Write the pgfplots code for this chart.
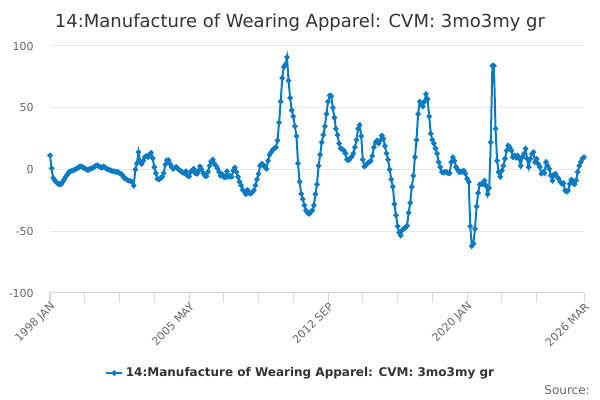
\documentclass[border=0pt]{standalone}
\usepackage{fontspec}
\setmainfont{DejaVu Sans}
\usepackage{pgfplots}
\pgfplotsset{compat=1.18}
\definecolor{linec}{HTML}{0A7BC2}
\definecolor{gridc}{HTML}{E6E6E6}
\definecolor{axisc}{HTML}{CCD6EB}
\definecolor{labelc}{HTML}{666666}
\definecolor{titlec}{HTML}{333333}
\definecolor{sourcec}{HTML}{666666}
\begin{document}
\begin{tikzpicture}
\path[use as bounding box] (0,0) rectangle (450pt,300pt);
\node[anchor=base, font=\fontsize{13.5}{16}\selectfont, text=titlec, inner sep=0pt] at (225pt,279pt) {14:Manufacture of Wearing Apparel: CVM: 3mo3my gr};
\node[anchor=base east, font=\fontsize{9}{11}\selectfont, text=sourcec, inner sep=0pt] at (442.5pt,4.5pt) {Source:};
\begin{axis}[
  at={(37.5pt,80.25pt)}, anchor=south west,
  scale only axis, width=400.5pt, height=185.25pt,
  xmin=0, xmax=338, ymin=-100, ymax=100,
  axis lines*=left,
  x axis line style={draw=axisc, line width=0.75pt},
  y axis line style={draw=none},
  xtick={0,88,176,264,338},
  xticklabels={1998 JAN,2005 MAY,2012 SEP,2020 JAN,2026 MAR},
  minor xtick={22,44,66,110,132,154,198,220,242,286,308},
  ytick={-100,-50,0,50,100},
  yticklabels={-100,-50,0,50,100},
  ymajorgrids,
  grid style={draw=gridc, line width=0.75pt},
  tick align=outside,
  major tick length=7pt,
  minor tick length=7pt,
  xtick style={draw=axisc, line width=0.75pt},
  minor x tick style={draw=axisc, line width=0.75pt},
  ytick style={draw=none},
  ticklabel style={font=\fontsize{8.25}{10}\selectfont, text=labelc},
  xticklabel style={rotate=45, anchor=east, inner sep=0pt, xshift=0.5pt, yshift=-3pt},
  yticklabel style={inner sep=0pt, xshift=-5pt},
  legend style={at={(axis description cs:0.47,-0.324)}, anchor=center, draw=none, fill=none,
    font=\bfseries\fontsize{9}{11}\selectfont, text=titlec, inner sep=0pt},
  legend image code/.code={\draw[#1, mark repeat=2, mark phase=2] plot coordinates {(0pt,0pt) (6pt,0pt) (12pt,0pt)};},
  clip=false,
]
\addplot[color=linec, line width=1.5pt, mark=*, mark size=1.2pt, mark options={solid, fill=linec, draw=linec}] coordinates {
(0,11.5)(1,1)(2,-7)(3,-9)(4,-10)(5,-11.5)(6,-12)(7,-12)(8,-10)(9,-8)
(10,-6)(11,-4)(12,-2)(13,-1.5)(14,-1)(15,-0.5)(16,0)(17,1)(18,1.5)(19,2.5)
(20,2.5)(21,1.5)(22,1)(23,0)(24,-0.5)(25,0.5)(26,0.5)(27,1.5)(28,2)(29,3)
(30,3.5)(31,2.5)(32,2)(33,1.5)(34,2.5)(35,1.5)(36,0.5)(37,0)(38,-0.5)(39,-1)
(40,-1.5)(41,-1.5)(42,-2)(43,-2)(44,-3)(45,-3.5)(46,-5)(47,-7)(48,-7.5)(49,-8.5)
(50,-9)(51,-9.5)(52,-10)(53,-13)(54,0)(55,5)(56,14)(57,7)(58,4.5)(59,7)
(60,10)(61,11)(62,10)(63,12)(64,13.5)(65,9)(66,2)(67,-3)(68,-7.5)(69,-8)
(70,-7)(71,-6)(72,-3)(73,4)(74,7.5)(75,7.5)(76,4.5)(77,2)(78,0.5)(79,1.5)
(80,2)(81,0.5)(82,-0.5)(83,-1.5)(84,-2.5)(85,-3)(86,-1.5)(87,-5)(88,-5.5)(89,-2)
(90,-0.5)(91,0.5)(92,-3)(93,-3.5)(94,-1)(95,2.5)(96,0)(97,-3)(98,-5)(99,-5.5)
(100,-2)(101,3)(102,6.5)(103,8)(104,5)(105,3)(106,1)(107,-2)(108,-5)(109,-4)
(110,-6)(111,-6.5)(112,-1.5)(113,-6)(114,-5)(115,-6)(116,-1)(117,1.5)(118,-2)(119,-6)
(120,-10)(121,-13)(122,-16.5)(123,-18)(124,-20)(125,-16.5)(126,-19)(127,-19.5)(128,-18.5)(129,-17)
(130,-13)(131,-8)(132,-3.5)(133,3)(134,4.6)(135,4)(136,2)(137,0.5)(138,7)(139,12)
(140,14)(141,16)(142,17)(143,18)(144,23.5)(145,38)(146,55)(147,74)(148,83)(149,85)
(150,91)(151,72)(152,58)(153,48)(154,43)(155,35)(156,27)(157,5)(158,-10)(159,-19.7)
(160,-24)(161,-29)(162,-33)(163,-35)(164,-36)(165,-34.5)(166,-33)(167,-29)(168,-20)(169,-12)
(170,3)(171,12)(172,22)(173,28)(174,35)(175,45)(176,55)(177,60)(178,59.5)(179,50)
(180,42)(181,33)(182,28)(183,21)(184,17)(185,16.5)(186,15.4)(187,13)(188,8)(189,7.5)
(190,9)(191,10.5)(192,13)(193,18)(194,24)(195,33)(196,36)(197,27)(198,8)(199,2.5)
(200,4)(201,5)(202,6)(203,7)(204,11)(205,18)(206,22)(207,23.5)(208,21)(209,23.5)
(210,27.5)(211,25)(212,19)(213,13)(214,8)(215,0)(216,-8)(217,-14)(218,-28)(219,-37)
(220,-46)(221,-51)(222,-53.5)(223,-49)(224,-48)(225,-47)(226,-45.5)(227,-35)(228,-27)(229,-14)
(230,-5)(231,10)(232,24)(233,45)(234,55)(235,53)(236,51)(237,55)(238,61)(239,57)
(240,43)(241,29)(242,24)(243,21)(244,17)(245,13)(246,6)(247,2)(248,-2)(249,-2.5)
(250,-2)(251,-2)(252,-3)(253,-3)(254,6)(255,10)(256,7)(257,2)(258,0)(259,-2)
(260,-2)(261,-1.5)(262,-1)(263,-3.5)(264,-7.5)(265,-10)(266,-46)(267,-62)(268,-60)(269,-48)
(270,-30)(271,-19)(272,-12)(273,-11.6)(274,-12)(275,-9)(276,-13)(277,-20)(278,-15)(279,22)
(280,84)(281,84)(282,33)(283,7)(284,-2)(285,-6)(286,-1)(287,3)(288,8.7)(289,15.4)
(290,19.5)(291,18)(292,15.4)(293,10)(294,11.4)(295,9.5)(296,11.4)(297,8.7)(298,3)(299,10)
(300,12.7)(301,16.8)(302,8.7)(303,2)(304,8.7)(305,12.7)(306,14)(307,6)(308,8.7)(309,4.6)
(310,2)(311,-3.5)(312,-2)(313,-3)(314,6)(315,3)(316,0.5)(317,-5)(318,-9)(319,-4)
(320,-3.5)(321,-6)(322,-7.6)(323,-10)(324,-11.6)(325,-11)(326,-17)(327,-18)(328,-17)(329,-11.6)
(330,-8.4)(331,-9)(332,-12)(333,-9)(334,-2)(335,3)(336,6)(337,8.7)(338,10)
};
\addlegendentry{14:Manufacture of Wearing Apparel: CVM: 3mo3my gr}
\end{axis}
\end{tikzpicture}
\end{document}
